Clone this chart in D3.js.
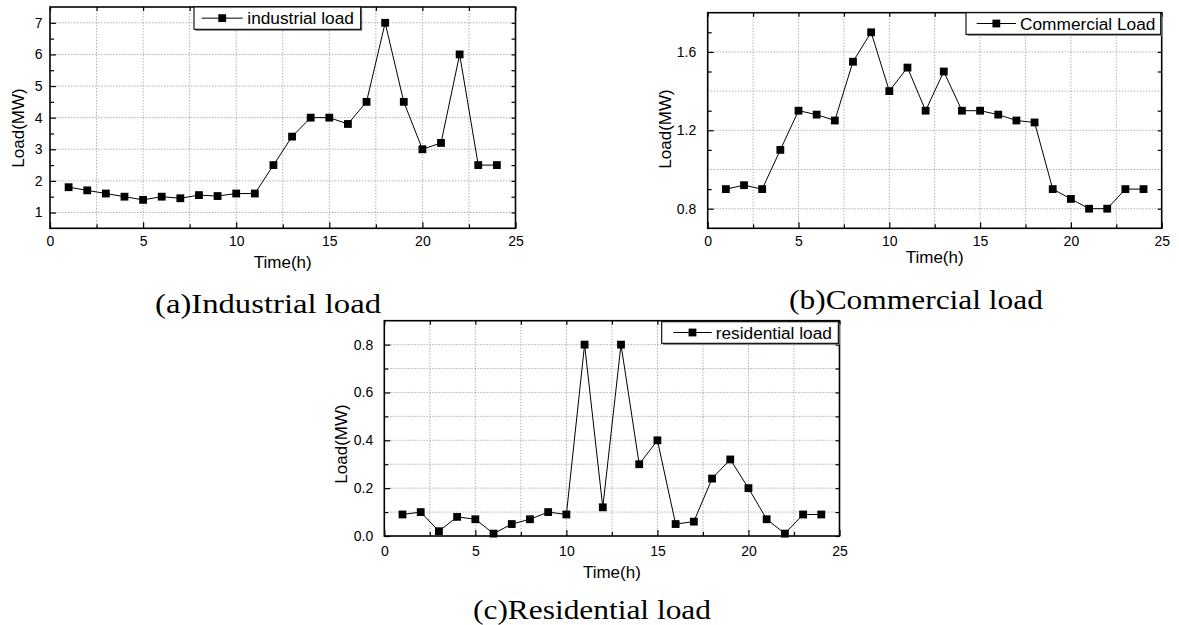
<!DOCTYPE html>
<html><head><meta charset="utf-8">
<script src="https://cdn.jsdelivr.net/npm/d3@7"></script>
<style>
body{margin:0;background:#fff}
svg{display:block}
text{font-family:"Liberation Sans",Arial,sans-serif;fill:#000}
</style>
</head><body>
<svg id="chart" width="1179" height="625"></svg>
<script>
// ---------------- data ----------------
const hours = [1,2,3,4,5,6,7,8,9,10,11,12,13,14,15,16,17,18,19,20,21,22,23,24];
const industrialLoad  = [1.8,1.7,1.6,1.5,1.4,1.5,1.45,1.55,1.52,1.6,1.6,2.5,3.4,4.0,4.0,3.8,4.5,7.0,4.5,3.0,3.2,6.0,2.5,2.5];
const commercialLoad  = [0.9,0.92,0.9,1.1,1.3,1.28,1.25,1.55,1.7,1.4,1.52,1.3,1.5,1.3,1.3,1.28,1.25,1.24,0.9,0.85,0.8,0.8,0.9,0.9];
const residentialLoad = [0.09,0.1,0.02,0.08,0.07,0.01,0.05,0.07,0.1,0.09,0.8,0.12,0.8,0.3,0.4,0.05,0.06,0.24,0.32,0.2,0.07,0.01,0.09,0.09];
const xTicks = [0,5,10,15,20,25];
const industrialYTicks  = [1,2,3,4,5,6,7];
const commercialYTicks  = [0.8,1.2,1.6];
const residentialYTicks = [0.0,0.2,0.4,0.6,0.8];
const legendLabels = ["industrial load","Commercial Load","residential load"];
const captions = ["(a)Industrial load","(b)Commercial load","(c)Residential load"];
const xTitle = "Time(h)";
const yTitle = "Load(MW)";

// ---------------- layout ----------------
const panels = [
  { values: industrialLoad, legend: legendLabels[0], caption: captions[0],
    xDomain:[0,25], yDomain:[0.5,7.5], yTicks: industrialYTicks, yFmt: d3.format("d"),
    yMinorStep:0.5, yGridStep:1,
    box:{x0:50,x1:515.5,y0:7,y1:228.3}, yLabPad:7.5, xLabPad:8,
    yTitle:{x:18,y:128}, xTitle:{y:262},
    leg:{x0:194,x1:360.7,y0:7,y1:29.3,l0:201.7,l1:242.7,t:247.3},
    cap:{x:268,y:312.5,w:226} },
  { values: commercialLoad, legend: legendLabels[1], caption: captions[1],
    xDomain:[0,25], yDomain:[0.7,1.8], yTicks: commercialYTicks, yFmt: d3.format(".1f"),
    yMinorStep:0.2, yGridStep:0.2,
    box:{x0:707.7,x1:1161.7,y0:12.7,y1:228.3}, yLabPad:11.5, xLabPad:8,
    yTitle:{x:665,y:129}, xTitle:{y:257.5},
    leg:{x0:966,x1:1160.7,y0:12.7,y1:34.3,l0:976.7,l1:1016,t:1020},
    cap:{x:916,y:308.5,w:254} },
  { values: residentialLoad, legend: legendLabels[2], caption: captions[2],
    xDomain:[0,25], yDomain:[0,0.9], yTicks: residentialYTicks, yFmt: d3.format(".1f"),
    yMinorStep:0.1, yGridStep:0.1,
    box:{x0:384.3,x1:839.5,y0:320.7,y1:536}, yLabPad:11, xLabPad:10,
    yTitle:{x:340.7,y:444}, xTitle:{y:572},
    leg:{x0:661.7,x1:838.3,y0:321.7,y1:343.3,l0:673.3,l1:711.7,t:715.7},
    cap:{x:592,y:618.5,w:238} }
];

const svg = d3.select("#chart");
const eps = 1e-9;

panels.forEach(p => {
  const b = p.box;
  const x = d3.scaleLinear().domain(p.xDomain).range([b.x0, b.x1]);
  const y = d3.scaleLinear().domain(p.yDomain).range([b.y1, b.y0]);
  const g = svg.append("g");

  // grid
  const xGrid = d3.range(2.5, 25, 2.5);
  const yGrid = d3.range(Math.ceil(p.yDomain[0]/p.yGridStep - eps)*p.yGridStep, p.yDomain[1]-eps, p.yGridStep)
                  .filter(v => v > p.yDomain[0] + eps);
  g.append("g").selectAll("line").data(xGrid).join("line")
    .attr("x1", d => x(d)).attr("x2", d => x(d)).attr("y1", b.y0).attr("y2", b.y1)
    .attr("stroke","#a8a8a8").attr("stroke-width",0.9).attr("stroke-dasharray","1.5,1.5");
  g.append("g").selectAll("line").data(yGrid).join("line")
    .attr("x1", b.x0).attr("x2", b.x1).attr("y1", d => y(d)).attr("y2", d => y(d))
    .attr("stroke","#a8a8a8").attr("stroke-width",0.9).attr("stroke-dasharray","1.5,1.5");

  // minor tick values
  const xMinor = d3.range(2.5, 25, 5);
  const yMinor = d3.range(p.yDomain[0], p.yDomain[1]+eps, p.yMinorStep)
     .map(v => +v.toFixed(4))
     .filter(v => v > p.yDomain[0]+eps && v < p.yDomain[1]-eps && !p.yTicks.some(t => Math.abs(t-v) < 1e-6));

  const styleAxis = sel => {
    sel.select(".domain").remove();
    sel.selectAll(".tick line").attr("stroke","#000").attr("stroke-width",1.2);
    sel.selectAll(".tick text").style("font-family",'"Liberation Sans",Arial,sans-serif')
       .style("font-size","14px").attr("fill","#000");
  };

  // bottom axis
  g.append("g").attr("transform",`translate(0,${b.y1})`)
    .call(d3.axisBottom(x).tickValues(xTicks).tickSize(-6).tickPadding(p.xLabPad).tickFormat(d3.format("d")))
    .call(styleAxis);
  g.append("g").attr("transform",`translate(0,${b.y1})`)
    .call(d3.axisBottom(x).tickValues(xMinor).tickSize(-4).tickFormat(""))
    .call(styleAxis);
  // top axis
  g.append("g").attr("transform",`translate(0,${b.y0})`)
    .call(d3.axisTop(x).tickValues(xTicks.concat(xMinor)).tickSize(-4).tickFormat(""))
    .call(styleAxis);
  // left axis
  g.append("g").attr("transform",`translate(${b.x0},0)`)
    .call(d3.axisLeft(y).tickValues(p.yTicks).tickSize(-6).tickPadding(p.yLabPad).tickFormat(p.yFmt))
    .call(styleAxis);
  g.append("g").attr("transform",`translate(${b.x0},0)`)
    .call(d3.axisLeft(y).tickValues(yMinor).tickSize(-4).tickFormat(""))
    .call(styleAxis);
  // right axis
  g.append("g").attr("transform",`translate(${b.x1},0)`)
    .call(d3.axisRight(y).tickValues(p.yTicks.concat(yMinor)).tickSize(-4).tickFormat(""))
    .call(styleAxis);

  // frame
  g.append("rect").attr("x",b.x0).attr("y",b.y0).attr("width",b.x1-b.x0).attr("height",b.y1-b.y0)
    .attr("fill","none").attr("stroke","#000").attr("stroke-width",1.6);

  // series
  const pts = hours.map((h,i) => ({h, v:p.values[i]}));
  g.append("path").datum(pts)
    .attr("d", d3.line().x(d => x(d.h)).y(d => y(d.v)))
    .attr("fill","none").attr("stroke","#000").attr("stroke-width",1);
  const ms = 7.8;
  g.append("g").selectAll("rect").data(pts).join("rect")
    .attr("x", d => x(d.h)-ms/2).attr("y", d => y(d.v)-ms/2)
    .attr("width", ms).attr("height", ms).attr("fill","#000");

  // axis titles
  g.append("text").attr("x",(b.x0+b.x1)/2).attr("y",p.xTitle.y).attr("dy","0.35em")
    .attr("text-anchor","middle").style("font-size","17px").text(xTitle);
  g.append("text").attr("transform",`translate(${p.yTitle.x},${p.yTitle.y}) rotate(-90)`)
    .attr("dy","0.35em").attr("text-anchor","middle").style("font-size","17px").text(yTitle);

  // legend
  const L = p.leg, cy = (L.y0+L.y1)/2;
  g.append("rect").attr("x",L.x0+1.5).attr("y",L.y0+1.5).attr("width",L.x1-L.x0).attr("height",L.y1-L.y0)
    .attr("fill","#777");
  g.append("rect").attr("x",L.x0).attr("y",L.y0).attr("width",L.x1-L.x0).attr("height",L.y1-L.y0)
    .attr("fill","#fff").attr("stroke","#000").attr("stroke-width",1.1);
  g.append("line").attr("x1",L.l0).attr("x2",L.l1).attr("y1",cy).attr("y2",cy)
    .attr("stroke","#000").attr("stroke-width",1);
  g.append("rect").attr("x",(L.l0+L.l1)/2-ms/2).attr("y",cy-ms/2).attr("width",ms).attr("height",ms).attr("fill","#000");
  g.append("text").attr("x",L.t).attr("y",cy).attr("dy","0.35em").style("font-size","17.3px").text(p.legend);

  // caption
  g.append("text").attr("x",p.cap.x).attr("y",p.cap.y).attr("text-anchor","middle")
    .attr("textLength",p.cap.w).attr("lengthAdjust","spacingAndGlyphs")
    .style("font-family",'"Liberation Serif","Times New Roman",serif').style("font-size","27px")
    .text(p.caption);
});
</script>
</body></html>
